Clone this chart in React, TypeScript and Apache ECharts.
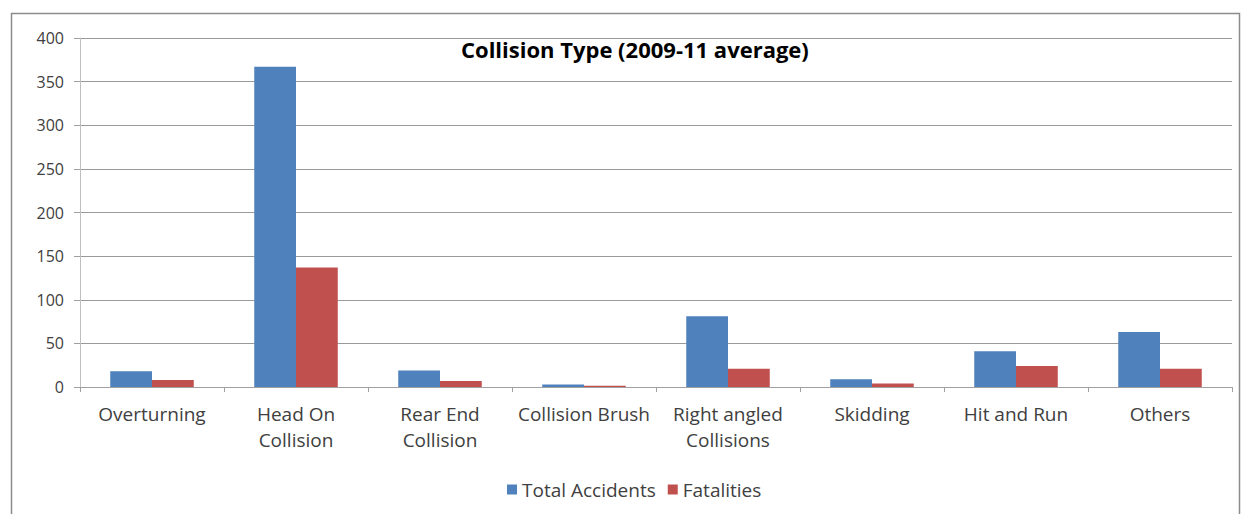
import React, { useEffect, useRef } from "react";
import * as echarts from "echarts";

const categories = [
  "Overturning",
  "Head On\nCollision",
  "Rear End\nCollision",
  "Collision Brush",
  "Right angled\nCollisions",
  "Skidding",
  "Hit and Run",
  "Others",
];
const totalAccidents = [18, 367, 19, 3, 81, 9, 41, 63];
const fatalities = [8, 137, 7, 1.5, 21, 4, 24, 21];
const yTicks = { min: 0, max: 400, interval: 50 };

const FONT = "'Open Sans', Lato, sans-serif";

export default function App() {
  const ref = useRef<HTMLDivElement>(null);
  useEffect(() => {
    if (!ref.current) return;
    const chart = echarts.init(ref.current, null, { renderer: "svg" });
    chart.setOption({
      animation: false,
      backgroundColor: "#ffffff",
      textStyle: { fontFamily: FONT },
      title: {
        text: "Collision Type (2009-11 average)",
        left: 456,
        top: 33,
        textStyle: { fontFamily: FONT, fontSize: 22, fontWeight: "bold", color: "#000" },
      },
      graphic: [
        {
          type: "rect",
          shape: { x: 11.5, y: 13.5, width: 1228, height: 510 },
          style: { fill: "none", stroke: "#8c8c8c", lineWidth: 1.5 },
          silent: true,
        },
      ],
      legend: {
        top: 475,
        left: 502,
        itemWidth: 10,
        itemHeight: 10,
        itemGap: 12,
        icon: "rect",
        textStyle: { fontFamily: FONT, fontSize: 19, color: "#404040" },
        data: ["Total Accidents", "Fatalities"],
      },
      grid: { left: 80, right: 13, top: 38, bottom: 127 },
      xAxis: {
        type: "category",
        data: categories,
        axisLine: { lineStyle: { color: "#a0a0a0" } },
        axisTick: { show: true, length: 5, lineStyle: { color: "#a0a0a0" } },
        axisLabel: {
          fontFamily: FONT,
          fontSize: 19,
          color: "#404040",
          margin: 14,
          lineHeight: 26,
          interval: 0,
        },
      },
      yAxis: {
        type: "value",
        min: yTicks.min,
        max: yTicks.max,
        interval: yTicks.interval,
        axisLine: { show: true, lineStyle: { color: "#c0c0c0" } },
        axisTick: { show: true, length: 6, lineStyle: { color: "#a0a0a0" } },
        splitLine: { lineStyle: { color: "#9a9a9a" } },
        axisLabel: { fontFamily: FONT, fontSize: 16, color: "#404040", margin: 16 },
      },
      series: [
        {
          name: "Total Accidents",
          type: "bar",
          data: totalAccidents,
          itemStyle: { color: "#4F81BD" },
          barGap: "0%",
          barCategoryGap: "42%",
        },
        {
          name: "Fatalities",
          type: "bar",
          data: fatalities,
          itemStyle: { color: "#C0504D" },
          barGap: "0%",
          barCategoryGap: "42%",
        },
      ],
    });
    return () => chart.dispose();
  }, []);
  return (
    <div
      ref={ref}
      style={{ position: "fixed", left: 0, top: 0, width: 1245, height: 514 }}
    />
  );
}
